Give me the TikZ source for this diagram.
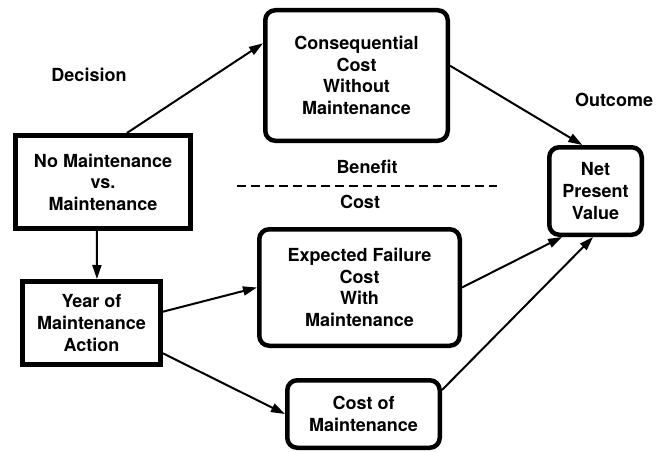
\documentclass[tikz,border=0pt]{standalone}
\usepackage{fontspec}
\setmainfont{TeX Gyre Heros}
\usepackage{tikz}
\usetikzlibrary{arrows.meta}

\begin{document}
\begin{tikzpicture}[->,>={Triangle[length=14pt,width=9pt]},x=1pt,y=-1pt,line width=2pt,
                    font=\fontsize{18}{21.6}\selectfont\bfseries]
  \tikzstyle{choice}=[draw,line width=5pt,align=center,inner sep=0pt]
  \tikzstyle{value}=[draw,line width=4.5pt,rounded corners=10pt,align=center,inner sep=0pt]

  \useasboundingbox (0,0) rectangle (664,452);

  \node[choice,minimum width=175pt,minimum height=93pt] (nomaint) at (103,182) {No Maintenance\\vs.\\Maintenance};
  \node[choice,minimum width=138pt,minimum height=83pt] (year)    at (91.5,323) {Year of\\Maintenance\\Action};
  \node[value,minimum width=182.5pt,minimum height=130.5pt] (conseq)  at (356.5,75.5) {Consequential\\Cost\\Without\\Maintenance};
  \node[value,minimum width=200.5pt,minimum height=116.5pt] (expected) at (359.5,287.5) {Expected Failure\\Cost\\With\\Maintenance};
  \node[value,minimum width=152.5pt,minimum height=67.5pt]  (costmaint) at (363.5,414) {Cost of\\Maintenance};
  \node[value,minimum width=92.5pt,minimum height=87.5pt]   (npv)     at (595.5,191) {Net\\Present\\Value};

  \node (decision) at (89,75)   {Decision};
  \node (outcome)  at (614,100) {Outcome};
  \node (benefit)  at (367,167) {Benefit};
  \node (cost)     at (360,202) {Cost};

  \coordinate (dashL) at (237,186);
  \coordinate (dashR) at (497,186);
  \draw[-,dashed,dash pattern=on 9pt off 5pt,line width=1.6pt] (dashL) -- (dashR);

  \path (nomaint.64)   edge (conseq.161)
        (conseq.6)     edge (npv.106)
        (nomaint.263)  edge (year.83)
        (year.9)       edge (expected.west)
        (year.-23)     edge (costmaint.west)
        (expected.east) edge (npv.234)
        (costmaint.17) edge (npv.267);
\end{tikzpicture}
\end{document}
